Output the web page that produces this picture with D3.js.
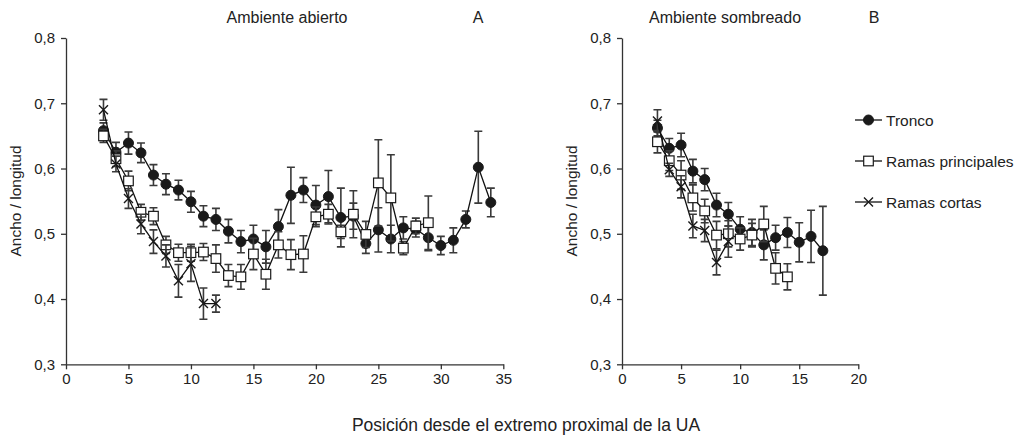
<!DOCTYPE html>
<html>
<head>
<meta charset="utf-8">
<script src="https://cdn.jsdelivr.net/npm/d3@7"></script>
<style>
  body { margin: 0; background: #fff; }
  svg { font-family: "Liberation Sans", Arial, sans-serif; }
  .axis path, .axis line { stroke: #333; stroke-width: 1.3; }
  .axis text { font-size: 15px; fill: #222; }
</style>
</head>
<body>
<div id="chart"></div>
<script>
"use strict";

// Datos
// -----

// Ambiente abierto (A)
var posTroncoA = [3, 4, 5, 6, 7, 8, 9, 10, 11, 12, 13, 14, 15, 16, 17, 18, 19, 20, 21, 22, 23, 24, 25, 26, 27, 28, 29, 30, 31, 32, 33, 34];
var troncoA    = [0.658, 0.625, 0.639, 0.624, 0.590, 0.576, 0.567, 0.549, 0.527, 0.522, 0.504, 0.488, 0.492, 0.480, 0.511, 0.559,
                  0.567, 0.544, 0.557, 0.525, 0.527, 0.485, 0.506, 0.492, 0.509, 0.507, 0.494, 0.482, 0.490, 0.522, 0.602, 0.548];
var troncoAErr = [0.012, 0.015, 0.017, 0.015, 0.016, 0.016, 0.015, 0.016, 0.016, 0.017, 0.018, 0.017, 0.021, 0.025, 0.026, 0.043,
                  0.019, 0.030, 0.040, 0.045, 0.020, 0.015, 0.034, 0.021, 0.017, 0.012, 0.020, 0.014, 0.019, 0.013, 0.055, 0.022];

var posPrincA = [3, 4, 5, 6, 7, 8, 9, 10, 11, 12, 13, 14, 15, 16, 17, 18, 19, 20, 21, 22, 23, 24, 25, 26, 27, 28, 29];
var princA    = [0.650, 0.615, 0.581, 0.533, 0.527, 0.483, 0.471, 0.471, 0.472, 0.462, 0.436, 0.434, 0.469, 0.438,
                 0.483, 0.468, 0.469, 0.526, 0.530, 0.503, 0.530, 0.499, 0.578, 0.555, 0.478, 0.512, 0.517];
var princAErr = [0.010, 0.012, 0.015, 0.012, 0.013, 0.013, 0.013, 0.013, 0.013, 0.021, 0.017, 0.019, 0.024, 0.023,
                 0.020, 0.023, 0.028, 0.015, 0.015, 0.010, 0.036, 0.020, 0.066, 0.066, 0.010, 0.012, 0.041];

var posCortasA = [3, 4, 5, 6, 7, 8, 9, 10, 11, 12];
var cortasA    = [0.690, 0.607, 0.554, 0.515, 0.488, 0.466, 0.428, 0.454, 0.393, 0.393];
var cortasAErr = [0.016, 0.012, 0.015, 0.015, 0.018, 0.017, 0.025, 0.027, 0.024, 0.013];

// Ambiente sombreado (B)
var posTroncoB = [3, 4, 5, 6, 7, 8, 9, 10, 11, 12, 13, 14, 15, 16, 17];
var troncoB    = [0.662, 0.631, 0.636, 0.596, 0.583, 0.544, 0.530, 0.507, 0.502, 0.483, 0.494, 0.502, 0.487, 0.496, 0.474];
var troncoBErr = [0.012, 0.015, 0.018, 0.018, 0.017, 0.018, 0.018, 0.019, 0.020, 0.023, 0.019, 0.023, 0.030, 0.040, 0.068];

var posPrincB = [3, 4, 5, 6, 7, 8, 9, 10, 11, 12, 13, 14];
var princB    = [0.641, 0.612, 0.590, 0.555, 0.535, 0.498, 0.500, 0.492, 0.498, 0.515, 0.447, 0.434];
var princBErr = [0.017, 0.015, 0.022, 0.020, 0.018, 0.021, 0.020, 0.017, 0.018, 0.027, 0.024, 0.020];

var posCortasB = [3, 4, 5, 6, 7, 8, 9];
var cortasB    = [0.673, 0.598, 0.572, 0.512, 0.505, 0.456, 0.488];
var cortasBErr = [0.017, 0.010, 0.017, 0.018, 0.017, 0.019, 0.024];

var yTicks  = [0.3, 0.4, 0.5, 0.6, 0.7, 0.8];
var xTicksA = [0, 5, 10, 15, 20, 25, 30, 35];
var xTicksB = [0, 5, 10, 15, 20];

var seriesNames = ["Tronco", "Ramas principales", "Ramas cortas"];


// Lienzo
// ------

var W = 1026, H = 439;
var svg = d3.select("#chart").append("svg")
    .attr("width", W).attr("height", H);

var y = d3.scaleLinear().domain([0.3, 0.8]).range([364.3, 38]);
var fmt = function(d) { return d3.format(".1f")(d).replace(".", ","); };

function zip(xs, vs, es) {
  return xs.map(function(x, i) { return {x: x, v: vs[i], e: es[i]}; });
}

function marker(g, type, cx, cy) {
  if (type == "circle") {
    g.append("circle").attr("cx", cx).attr("cy", cy).attr("r", 5)
        .attr("fill", "#1a1a1a").attr("stroke", "#1a1a1a");
  } else if (type == "square") {
    g.append("rect").attr("x", cx - 4.8).attr("y", cy - 4.8)
        .attr("width", 9.6).attr("height", 9.6)
        .attr("fill", "#fff").attr("stroke", "#1a1a1a").attr("stroke-width", 1.2);
  } else {
    var s = 4.5;
    g.append("path")
        .attr("d", "M" + (cx - s) + "," + (cy - s) + "L" + (cx + s) + "," + (cy + s) +
                   "M" + (cx - s) + "," + (cy + s) + "L" + (cx + s) + "," + (cy - s))
        .attr("stroke", "#1a1a1a").attr("stroke-width", 1.4);
  }
}


// Paneles
// -------

function panel(opt) {

  var x = d3.scaleLinear().domain(opt.xDomain).range(opt.xRange);
  var g = svg.append("g");

  // ejes
  g.append("g").attr("class", "axis")
      .attr("transform", "translate(0," + y(0.3) + ")")
      .call(d3.axisBottom(x).tickValues(opt.xTicks).tickSize(5).tickSizeOuter(0)
          .tickPadding(4));

  g.append("g").attr("class", "axis")
      .attr("transform", "translate(" + opt.xRange[0] + ",0)")
      .call(d3.axisLeft(y).tickValues(yTicks).tickFormat(fmt).tickSize(5)
          .tickSizeOuter(0).tickPadding(6));

  g.selectAll(".axis .domain").attr("stroke", "#333");

  g.append("text")
      .attr("transform", "translate(" + opt.yLabelX + ",201) rotate(-90)")
      .attr("text-anchor", "middle")
      .style("font-size", "15.5px").style("fill", "#222")
      .text("Ancho / longitud");

  g.append("text")
      .attr("x", opt.titleX).attr("y", 23)
      .attr("text-anchor", "middle")
      .style("font-size", "16px").style("fill", "#222")
      .text(opt.title);

  g.append("text")
      .attr("x", opt.letterX).attr("y", 23)
      .attr("text-anchor", "middle")
      .style("font-size", "16px").style("fill", "#222")
      .text(opt.letter);

  var line = d3.line().x(function(d) { return x(d.x); }).y(function(d) { return y(d.v); });

  opt.series.forEach(function(s) {
    var sg = g.append("g");

    // barras de error
    s.data.forEach(function(d) {
      var cx = x(d.x), y0 = y(d.v - d.e), y1 = y(d.v + d.e);
      sg.append("path")
          .attr("d", "M" + cx + "," + y0 + "V" + y1 +
                     "M" + (cx - 4) + "," + y0 + "H" + (cx + 4) +
                     "M" + (cx - 4) + "," + y1 + "H" + (cx + 4))
          .attr("fill", "none").attr("stroke", "#3a3a3a").attr("stroke-width", 1.6);
    });

    sg.append("path").datum(s.data)
        .attr("d", line)
        .attr("fill", "none").attr("stroke", "#111").attr("stroke-width", 1.3);

    s.data.forEach(function(d) { marker(sg, s.type, x(d.x), y(d.v)); });
  });
}

panel({
  xDomain: [0, 35], xRange: [66, 503.3], xTicks: xTicksA,
  title: "Ambiente abierto", titleX: 287, letter: "A", letterX: 478, yLabelX: 21,
  series: [
    {type: "circle", data: zip(posTroncoA, troncoA, troncoAErr)},
    {type: "square", data: zip(posPrincA, princA, princAErr)},
    {type: "cross",  data: zip(posCortasA, cortasA, cortasAErr)}
  ]
});

panel({
  xDomain: [0, 20], xRange: [622, 858.3], xTicks: xTicksB,
  title: "Ambiente sombreado", titleX: 725, letter: "B", letterX: 874, yLabelX: 577,
  series: [
    {type: "circle", data: zip(posTroncoB, troncoB, troncoBErr)},
    {type: "square", data: zip(posPrincB, princB, princBErr)},
    {type: "cross",  data: zip(posCortasB, cortasB, cortasBErr)}
  ]
});


// Leyenda
// -------

var legendTypes = ["circle", "square", "cross"];
seriesNames.forEach(function(name, i) {
  var ly = 120 + i * 41;
  var lg = svg.append("g");
  lg.append("line").attr("x1", 855).attr("x2", 882).attr("y1", ly).attr("y2", ly)
      .attr("stroke", "#111").attr("stroke-width", 1.3);
  marker(lg, legendTypes[i], 868.5, ly);
  lg.append("text").attr("x", 886).attr("y", ly + 5.5)
      .style("font-size", "15.5px").style("fill", "#222")
      .text(name);
});


// Título del eje x
// ----------------

svg.append("text")
    .attr("x", 526).attr("y", 431)
    .attr("text-anchor", "middle")
    .style("font-size", "17.5px").style("fill", "#222")
    .text("Posición desde el extremo proximal de la UA");

</script>
</body>
</html>
